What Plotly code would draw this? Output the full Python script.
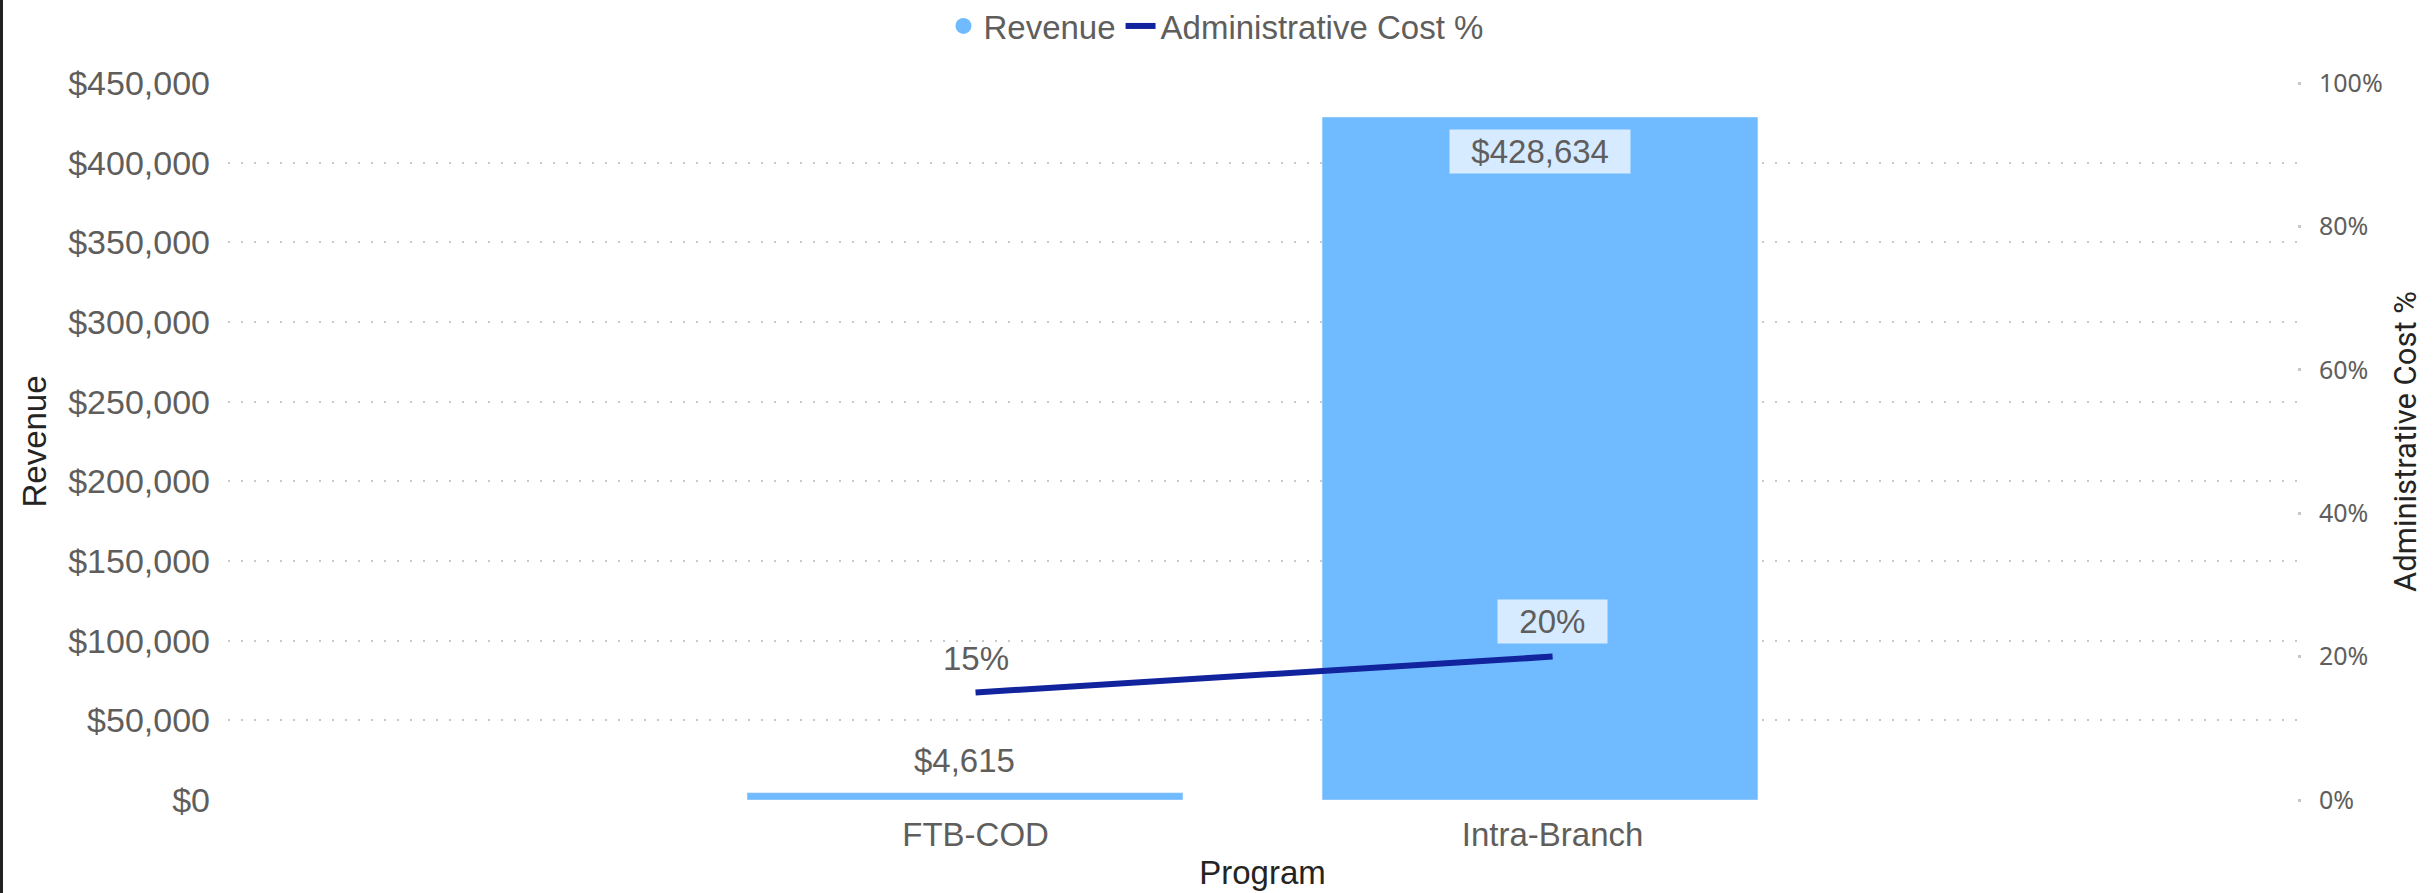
import plotly.graph_objects as go

programs = ["FTB-COD", "Intra-Branch"]
revenue = [4615, 428634]
admin_cost_pct = [0.15, 0.20]
revenue_labels = ["$4,615", "$428,634"]
pct_labels = ["15%", "20%"]
revenue_ticks = [0, 50000, 100000, 150000, 200000, 250000, 300000, 350000, 400000, 450000]
revenue_tick_text = ["$0", "$50,000", "$100,000", "$150,000", "$200,000", "$250,000",
                     "$300,000", "$350,000", "$400,000", "$450,000"]
pct_ticks = [0, 0.2, 0.4, 0.6, 0.8, 1.0]
pct_tick_text = ["0%", "20%", "40%", "60%", "80%", "100%"]

BAR = "#70BBFF"
LINE = "#12239E"
GRAY = "#605E5C"
DARK = "#252423"
GRID = "#C8C8C8"
BOX = "#D6EBFF"
ARIAL = "Liberation Sans, Arial, sans-serif"

fig = go.Figure()

fig.add_trace(go.Bar(
    x=programs, y=revenue, name="Revenue", marker_color=BAR,
    xaxis="x", yaxis="y", showlegend=False, hoverinfo="x+y",
))
# legend entry for Revenue (circle symbol)
fig.add_trace(go.Scatter(
    x=[None], y=[None], mode="markers", name="Revenue",
    marker=dict(symbol="circle", size=20, color=BAR),
    xaxis="x", yaxis="y",
))
fig.add_trace(go.Scatter(
    x=programs, y=admin_cost_pct, mode="lines", name="Administrative Cost %",
    line=dict(color=LINE, width=6), xaxis="x2", yaxis="y2",
))

annotations = []
annotations.append(dict(x=programs[0], y=revenue[0], xref="x", yref="y",
                        text=revenue_labels[0], showarrow=False, yanchor="middle",
                        yshift=32, font=dict(family=ARIAL, size=33, color=GRAY)))
annotations.append(dict(x=programs[1], y=revenue[1], xref="x", yref="y",
                        text="&nbsp;&nbsp;" + revenue_labels[1] + "&nbsp;&nbsp;",
                        showarrow=False, yanchor="middle", yshift=-34,
                        bgcolor=BOX, borderpad=3,
                        font=dict(family=ARIAL, size=33, color=GRAY)))
annotations.append(dict(x=programs[0], y=admin_cost_pct[0], xref="x2", yref="y2",
                        text=pct_labels[0], showarrow=False, yanchor="middle",
                        yshift=34, font=dict(family=ARIAL, size=33, color=GRAY)))
annotations.append(dict(x=programs[1], y=admin_cost_pct[1], xref="x2", yref="y2",
                        text="&nbsp;&nbsp;" + pct_labels[1] + "&nbsp;&nbsp;",
                        showarrow=False, yanchor="middle", yshift=35,
                        bgcolor=BOX, borderpad=3,
                        font=dict(family=ARIAL, size=33, color=GRAY)))

fig.update_layout(
    width=2433, height=893,
    margin=dict(l=228, r=136, t=83, b=93, autoexpand=False),
    paper_bgcolor="white", plot_bgcolor="white",
    bargap=0.242,
    showlegend=True,
    legend=dict(orientation="h", x=0.4775, xanchor="center", y=1.0795, yanchor="middle",
                xref="paper", yref="paper",
                font=dict(family=ARIAL, size=33, color=GRAY),
                itemsizing="trace", traceorder="normal", bgcolor="rgba(0,0,0,0)"),
    xaxis=dict(
        type="category", categoryorder="array", categoryarray=programs,
        range=[-1.2817, 2.3165], visible=False, anchor="y",
    ),
    xaxis2=dict(
        type="category", categoryorder="array", categoryarray=programs,
        overlaying="x", side="bottom", anchor="y2",
        range=[-1.2955, 2.290], showgrid=False, zeroline=False, showline=False,
        tickfont=dict(family=ARIAL, size=33, color=GRAY),
        title=dict(text="Program", font=dict(family=ARIAL, size=33, color=DARK), standoff=8),
        ticklabelstandoff=12, automargin=False,
    ),
    yaxis=dict(
        range=[0, 450000], tickvals=revenue_ticks, ticktext=revenue_tick_text,
        showgrid=True, gridcolor=GRID, gridwidth=2, griddash="2px,11px",
        zeroline=False, showline=False,
        tickfont=dict(family=ARIAL, size=34, color=GRAY),
        title=dict(text="Revenue", font=dict(family=ARIAL, size=33, color=DARK), standoff=11),
        ticklabelstandoff=17, automargin=False, anchor="x",
    ),
    yaxis2=dict(
        range=[0, 1], tickvals=pct_ticks, ticktext=pct_tick_text,
        overlaying="y", side="right", anchor="x2",
        showgrid=False, zeroline=False, showline=False,
        ticks="outside", ticklen=3, tickwidth=3, tickcolor=GRID,
        tickfont=dict(family="Noto Sans, sans-serif", size=25, color=GRAY),
        title=dict(text="Administrative Cost %", font=dict(family="Roboto, sans-serif", size=31, color=DARK), standoff=12),
        ticklabelstandoff=13, automargin=False,
    ),
    annotations=annotations,
    shapes=[dict(type="line", xref="paper", yref="paper",
                 x0=-226.5 / 2069, x1=-226.5 / 2069, y0=-93 / 717, y1=1 + 83 / 717,
                 line=dict(color="#222222", width=3))],
)

fig.write_html("out.html",
               config={"displayModeBar": False},
               post_script="document.body.style.margin='0';document.body.style.overflow='hidden';")
